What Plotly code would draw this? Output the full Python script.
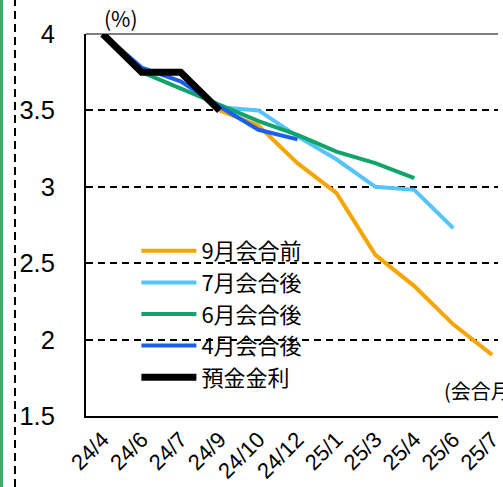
import plotly.graph_objects as go

# Meeting months on the category axis
months = ["24/4", "24/6", "24/7", "24/9", "24/10", "24/12",
          "25/1", "25/3", "25/4", "25/6", "25/7"]

# Projected rate paths (%), one per meeting vintage
sep_pre = [None, None, None, 3.50, 3.40, 3.155, 2.96, 2.555, 2.35, 2.10, 1.90]
jul_post = [None, None, None, 3.52, 3.50, 3.33, 3.18, 3.00, 2.98, 2.73, None]
jun_post = [None, 3.75, 3.645, 3.536, 3.43, 3.34, 3.23, 3.155, 3.057, None, None]
apr_post = [4.00, 3.78, 3.69, 3.525, 3.373, 3.31, None, None, None, None, None]
deposit_rate = [4.00, 3.75, 3.75, 3.50, None, None, None, None, None, None, None]

series = [
    ("9月会合前", sep_pre, "#f6a500", 4),
    ("7月会合後", jul_post, "#55c4f7", 4),
    ("6月会合後", jun_post, "#10a36b", 4),
    ("4月会合後", apr_post, "#1a5ff2", 4),
    ("預金金利", deposit_rate, "#000000", 7),
]

fig = go.Figure()
for name, vals, color, width in series:
    fig.add_trace(go.Scatter(
        x=months, y=vals, name=name, mode="lines",
        line=dict(color=color, width=width),
        connectgaps=False,
    ))

W, H = 503, 487
ML, MR, MT, MB = 86, 0, 34, 71
PW, PH = W - ML - MR, H - MT - MB


def px_x(px):
    """Pixel column -> paper x."""
    return (px - ML) / PW


def px_y(py):
    """Pixel row -> paper y."""
    return (H - MB - py) / PH


fig.update_layout(
    width=W, height=H,
    margin=dict(l=ML, r=MR, t=MT, b=MB),
    paper_bgcolor="white", plot_bgcolor="white",
    font=dict(family="Liberation Sans, Arial, Noto Sans CJK JP", color="black"),
    showlegend=True,
    legend=dict(
        x=px_x(137), y=px_y(230), xanchor="left", yanchor="top",
        bgcolor="rgba(0,0,0,0)", borderwidth=0,
        font=dict(size=22, family="Noto Sans CJK JP, Liberation Sans"),
        itemwidth=55, tracegroupgap=0,
    ),
    xaxis=dict(
        type="category", categoryorder="array", categoryarray=months,
        range=[-0.43, 10.15],
        showgrid=False, showline=True, linecolor="black", linewidth=2,
        ticks="", tickangle=-45, tickfont=dict(size=22),
        zeroline=False,
    ),
    yaxis=dict(
        range=[1.5, 4.0], tickvals=[1.5, 2, 2.5, 3, 3.5, 4],
        ticktext=["1.5", "2", "2.5", "3", "3.5", "4"],
        showgrid=True, gridcolor="black", gridwidth=1.5, griddash="7px,5px",
        showline=True, linecolor="black", linewidth=2,
        ticks="", ticklabelstandoff=24, tickfont=dict(size=25.5),
        zeroline=False,
    ),
    annotations=[
        dict(text="(%)", xref="paper", yref="paper", x=px_x(121), y=px_y(18),
             xanchor="center", yanchor="middle", showarrow=False,
             font=dict(size=21, family="Noto Sans CJK JP")),
        dict(text="(会合月)", xref="paper", yref="paper", x=px_x(446), y=px_y(390),
             xanchor="left", yanchor="middle", showarrow=False,
             font=dict(size=20, family="Noto Sans CJK JP")),
    ],
    shapes=[
        # white panel behind the legend, hiding the gridlines there
        dict(type="rect", xref="paper", yref="paper", layer="between",
             x0=px_x(107), x1=px_x(333), y0=px_y(393), y1=px_y(233),
             line=dict(width=0), fillcolor="white"),
        # thin top border of the plot frame
        dict(type="line", xref="paper", yref="paper", x0=0, x1=1, y0=1, y1=1,
             line=dict(color="black", width=1)),
        # green page rule at the far left
        dict(type="rect", xref="paper", yref="paper",
             xanchor=0, xsizemode="pixel", x0=-ML, x1=-ML + 3,
             yanchor=0, ysizemode="pixel", y0=-MB, y1=H - MB,
             line=dict(width=0), fillcolor="#3daa6f"),
        # dashed column separator
        dict(type="line", xref="paper", yref="paper",
             xanchor=0, xsizemode="pixel", x0=-ML + 15, x1=-ML + 15,
             yanchor=0, ysizemode="pixel", y0=-MB, y1=H - MB,
             line=dict(color="black", width=2, dash="8px,5px")),
    ],
)

fig.write_html("out.html")
